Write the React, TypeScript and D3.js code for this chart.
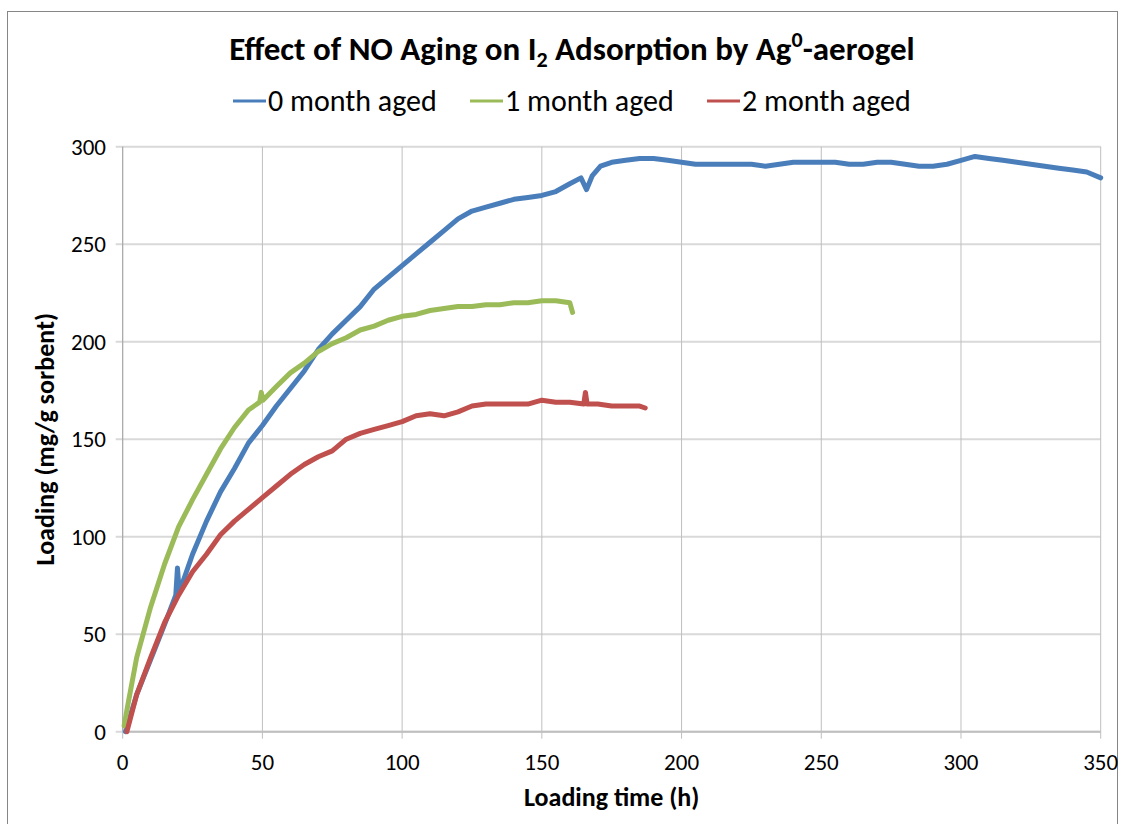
import React from 'react'
import * as d3 from 'd3'

// loading time (h) / loading (mg/g sorbent)
const blueHours = [1, 5, 10, 15, 19, 19.6, 20.1, 20.6, 25, 30, 35, 40, 45, 50, 55, 60, 65, 70, 75, 80, 85, 90, 95, 100, 105, 110, 115, 120, 125, 130, 135, 140, 145, 150, 155, 160, 164, 166, 168, 171, 175, 180, 185, 190, 195, 200, 205, 210, 215, 220, 225, 230, 235, 240, 245, 250, 255, 260, 265, 270, 275, 280, 285, 290, 295, 300, 305, 310, 315, 320, 325, 330, 335, 340, 345, 350]
const blueValues = [0, 19, 37, 55, 70, 84, 74, 73, 91, 108, 123, 135, 148, 157, 167, 176, 185, 196, 204, 211, 218, 227, 233, 239, 245, 251, 257, 263, 267, 269, 271, 273, 274, 275, 277, 281, 284, 278, 285, 290, 292, 293, 294, 294, 293, 292, 291, 291, 291, 291, 291, 290, 291, 292, 292, 292, 292, 291, 291, 292, 292, 291, 290, 290, 291, 293, 295, 294, 293, 292, 291, 290, 289, 288, 287, 284]

const greenHours = [0.5, 2, 5, 10, 15, 20, 25, 30, 35, 40, 45, 49, 49.6, 50.2, 55, 60, 65, 70, 75, 80, 85, 90, 95, 100, 105, 110, 115, 120, 125, 130, 135, 140, 145, 150, 155, 160, 161]
const greenValues = [3, 15, 38, 64, 86, 105, 119, 132, 145, 156, 165, 169, 174, 170, 177, 184, 189, 195, 199, 202, 206, 208, 211, 213, 214, 216, 217, 218, 218, 219, 219, 220, 220, 221, 221, 220, 215]

const redHours = [1.5, 5, 10, 15, 20, 25, 30, 35, 40, 45, 50, 55, 60, 65, 70, 75, 80, 85, 90, 95, 100, 105, 110, 115, 120, 125, 130, 135, 140, 145, 150, 155, 160, 165, 165.6, 166.2, 170, 175, 180, 185, 187]
const redValues = [0, 19, 38, 56, 70, 82, 91, 101, 108, 114, 120, 126, 132, 137, 141, 144, 150, 153, 155, 157, 159, 162, 163, 162, 164, 167, 168, 168, 168, 168, 170, 169, 169, 168, 174, 168, 168, 167, 167, 167, 166]

const seriesNames = ['0 month aged', '1 month aged', '2 month aged']
const seriesColors = ['#4a7ebb', '#9bbb59', '#c0504d']
const xTicks = [0, 50, 100, 150, 200, 250, 300, 350]
const yTicks = [0, 50, 100, 150, 200, 250, 300]

const W = 1121
const H = 824
const left = 122.7
const right = 1100.7
const top = 146.7
const bottom = 731.7
const font = "Carlito, Calibri, 'Liberation Sans Narrow', 'Liberation Sans', Arial, sans-serif"

export default function App() {
  const x = d3.scaleLinear().domain([0, 350]).range([left, right])
  const y = d3.scaleLinear().domain([0, 300]).range([bottom, top])
  const line = d3.line<[number, number]>()
    .x(d => x(d[0]))
    .y(d => y(d[1]))

  const series = [
    d3.zip(blueHours, blueValues) as [number, number][],
    d3.zip(greenHours, greenValues) as [number, number][],
    d3.zip(redHours, redValues) as [number, number][],
  ]

  const legendX = [233, 470, 707]

  return (
    <svg width={W} height={H} style={{ position: 'absolute', left: 0, top: 0 }}>
      <rect x={0} y={0} width={W} height={H} fill="#fff" />
      <rect x={7.5} y={11.5} width={1110} height={830} fill="none" stroke="#868686" strokeWidth={1} />

      <text x={572} y={60} textAnchor="middle" fontFamily={font} fontWeight="bold" fontSize={33} fill="#000">
        Effect of NO Aging on I<tspan fontSize={22} dy={7}>2</tspan><tspan dy={-7}> Adsorption by Ag</tspan><tspan fontSize={22} dy={-13}>0</tspan><tspan dy={13}>-aerogel</tspan>
      </text>

      {seriesNames.map((name, i) => (
        <g key={name}>
          <line x1={legendX[i]} x2={legendX[i] + 33} y1={101} y2={101} stroke={seriesColors[i]} strokeWidth={3} />
          <text x={legendX[i] + 35} y={111} fontFamily={font} fontSize={30} fill="#000">{name}</text>
        </g>
      ))}

      {yTicks.map(t => (
        <g key={'y' + t}>
          <line x1={left - 7} x2={right} y1={y(t)} y2={y(t)} stroke="#d9d9d9" strokeWidth={2} />
          <text x={106} y={y(t) + 8} textAnchor="end" fontFamily={font} fontSize={23} fill="#000">{t}</text>
        </g>
      ))}
      {xTicks.map(t => (
        <g key={'x' + t}>
          <line x1={x(t)} x2={x(t)} y1={top} y2={bottom + 7} stroke="#bfbfbf" strokeWidth={1} />
          <text x={x(t)} y={770} textAnchor="middle" fontFamily={font} fontSize={23} fill="#000">{t}</text>
        </g>
      ))}
      <line x1={left} x2={left} y1={top} y2={bottom} stroke="#a6a6a6" strokeWidth={1} />
      <line x1={left} x2={right} y1={bottom} y2={bottom} stroke="#bfbfbf" strokeWidth={2} />

      {series.map((s, i) => (
        <path key={i} d={line(s) || ''} fill="none" stroke={seriesColors[i]} strokeWidth={5} strokeLinejoin="round" strokeLinecap="round" />
      ))}

      <text x={(left + right) / 2} y={806} textAnchor="middle" fontFamily={font} fontWeight="bold" fontSize={26} fill="#000">Loading time (h)</text>
      <text transform={`translate(54, ${(top + bottom) / 2}) rotate(-90)`} textAnchor="middle" fontFamily={font} fontWeight="bold" fontSize={26} fill="#000">Loading (mg/g sorbent)</text>
    </svg>
  )
}
